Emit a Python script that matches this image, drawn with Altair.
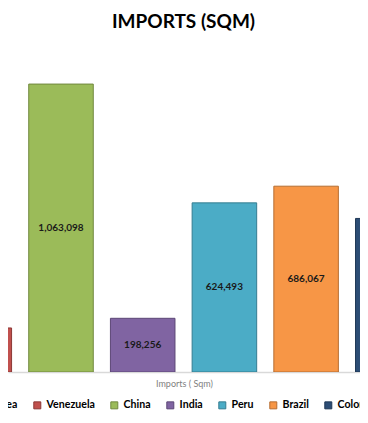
import altair as alt
import pandas as pd

countries = ["Korea", "Venezuela", "China", "India", "Peru", "Brazil", "Colombia"]
imports = [350000, 162600, 1063098, 198256, 624493, 686067, 567000]
fills = ["#4F81BD", "#C0504D", "#9BBB59", "#8064A2", "#4BACC6", "#F79646", "#2C4D75"]
strokes = ["#385D8A", "#8C3836", "#71893F", "#5C4776", "#357D91", "#B66D31", "#1F3856"]
positions = list(range(len(countries)))

df = pd.DataFrame({"country": countries, "imports": imports, "idx": positions})

xscale = alt.Scale(domain=[1.3513, 5.6597], nice=False, zero=False)
yscale = alt.Scale(domain=[0, 1200000], nice=False)

base = alt.Chart(df).transform_calculate(
    x0="datum.idx - 0.395", x1="datum.idx + 0.395", mid="datum.imports / 2"
)

bars = base.mark_bar(clip=True, strokeWidth=1).encode(
    x=alt.X(
        "x0:Q",
        scale=xscale,
        axis=alt.Axis(
            title="Imports ( Sqm)",
            labels=False,
            ticks=False,
            grid=False,
            domainColor="#D9D9D9",
            domainWidth=1.5,
            titleFont="Lato",
            titleFontSize=9,
            titleColor="#7F7F7F",
            titleFontWeight="normal",
            titleX=176,
            titleY=11,
            titleBaseline="middle",
        ),
    ),
    x2="x1:Q",
    y=alt.Y("imports:Q", scale=yscale, axis=None),
    y2=alt.datum(0),
    fill=alt.Fill(
        "country:N",
        scale=alt.Scale(domain=countries, range=fills),
        legend=alt.Legend(
            orient="none",
            legendX=-33,
            legendY=353,
            direction="horizontal",
            title=None,
            symbolType="square",
            symbolSize=49,
            labelFont="Lato",
            labelFontWeight="bold",
            labelFontSize=10.6,
            labelColor="#000000",
            columnPadding=13,
            labelOffset=4,
            padding=0,
            symbolStrokeColor="#404040",
            symbolStrokeWidth=1,
        ),
    ),
    stroke=alt.Stroke(
        "country:N", scale=alt.Scale(domain=countries, range=strokes), legend=None
    ),
)

labels = base.mark_text(
    clip=True, font="Lato", fontWeight="bold", fontSize=10, color="#1A1A1A", baseline="middle"
).encode(
    x=alt.X("idx:Q", scale=xscale),
    y=alt.Y("mid:Q", scale=yscale),
    text=alt.Text("imports:Q", format=","),
)

chart = (
    alt.layer(bars, labels)
    .properties(
        width=352,
        height=325,
        padding={"left": 0, "right": 0, "top": 39, "bottom": 43},
        autosize="none",
        title=alt.Title(
            "IMPORTS (SQM)",
            font="Lato",
            fontSize=19,
            fontWeight="bold",
            color="#000000",
            anchor="middle",
            offset=15,
            dx=-0.5,
        ),
    )
    .configure_view(stroke=None)
)

chart.save("out.html", embed_options={"renderer": "svg", "actions": False})
